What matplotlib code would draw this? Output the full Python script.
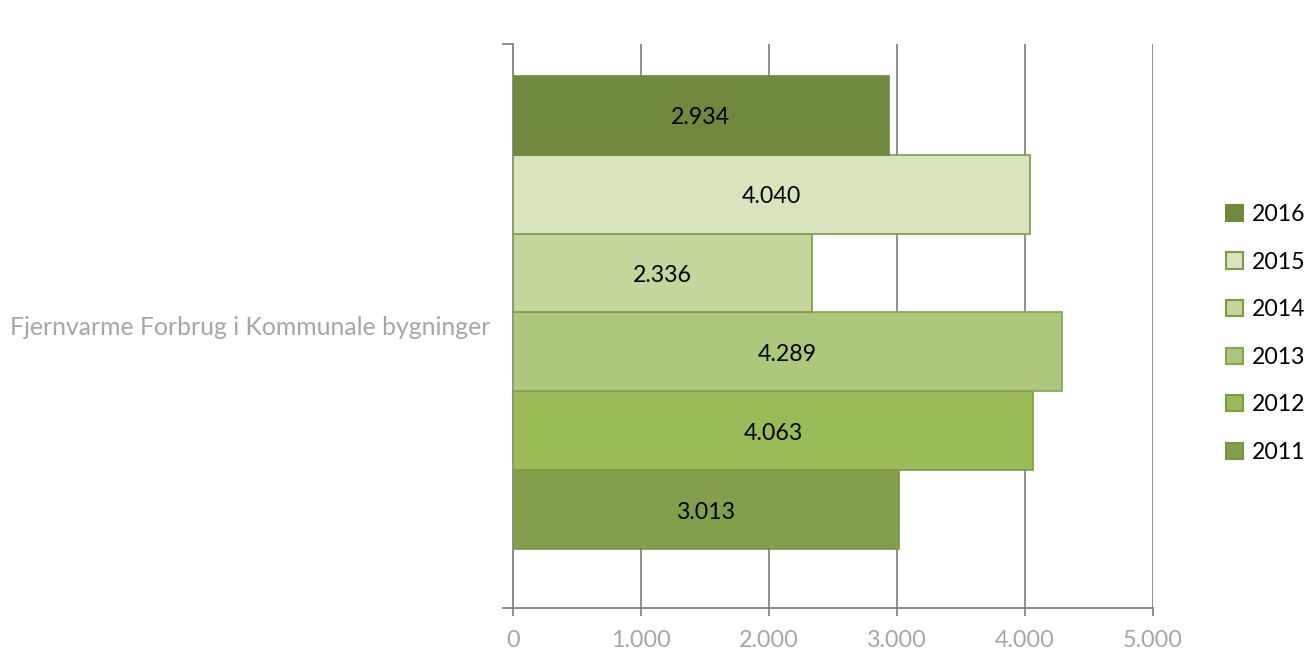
import numpy as np
import matplotlib.pyplot as plt
from matplotlib.patches import Patch
from matplotlib.ticker import FuncFormatter

category = "Fjernvarme Forbrug i Kommunale bygninger"
years = ["2011", "2012", "2013", "2014", "2015", "2016"]
values = [3013, 4063, 4289, 2336, 4040, 2934]
colors = ["#839F4C", "#9BBB59", "#ADC77C", "#C3D69B", "#D7E4BD", "#71893F"]
edges = ["#7A9446", "#7D9B45", "#86A34F", "#7E9A48", "#7E9A48", "#71893F"]

plt.rcParams['font.family'] = ['Lato', 'DejaVu Sans']

fig = plt.figure(figsize=(13.06, 6.55), dpi=100)
ax = fig.add_axes([0.3928, 0.0718, 0.49, 0.861])

h = 0.14
shift = 0.024
for i, (yr, v) in enumerate(zip(years, values)):
    y = (i - 2.5) * h + shift
    ax.barh(y, v, height=h, color=colors[i], edgecolor=edges[i], linewidth=1.2, zorder=3)
    ax.text(v / 2, y - 0.004, f"{v:,}".replace(",", "."), ha='center', va='center',
            fontsize=16.7, color='black', zorder=4)

gray = "#868686"
ax.set_xlim(0, 5000)
ax.set_ylim(-0.5, 0.5)
ax.set_xticks(np.arange(0, 5001, 1000))
ax.xaxis.set_major_formatter(FuncFormatter(lambda x, p: f"{int(x):,}".replace(",", ".")))
ax.grid(axis='x', color=gray, linewidth=1.3, zorder=0)
ax.set_yticks([0])
ax.set_yticklabels([category])
ax.set_yticks([-0.5, 0.5], minor=True)
ax.tick_params(axis='y', which='major', length=0, pad=16, labelsize=17.8, labelcolor="#A6A6A6")
ax.tick_params(axis='y', which='minor', length=8, width=1.3, color=gray)
ax.tick_params(axis='x', length=6, width=1.3, color=gray, labelsize=16.8, labelcolor="#A6A6A6", pad=10)
for s in ['top', 'right']:
    ax.spines[s].set_visible(False)
for s in ['left', 'bottom']:
    ax.spines[s].set_color(gray)
    ax.spines[s].set_linewidth(1.3)

handles = [Patch(facecolor=colors[i], edgecolor=edges[i], linewidth=1.5, label=years[i])
           for i in range(len(years) - 1, -1, -1)]
fig.legend(handles=handles, loc='center left', bbox_to_anchor=(0.932, 0.491),
           frameon=False, fontsize=16.6, handlelength=0.7, handleheight=0.7,
           handletextpad=0.4, labelspacing=1.15, borderaxespad=0)

fig.savefig("out.png", dpi=100)
